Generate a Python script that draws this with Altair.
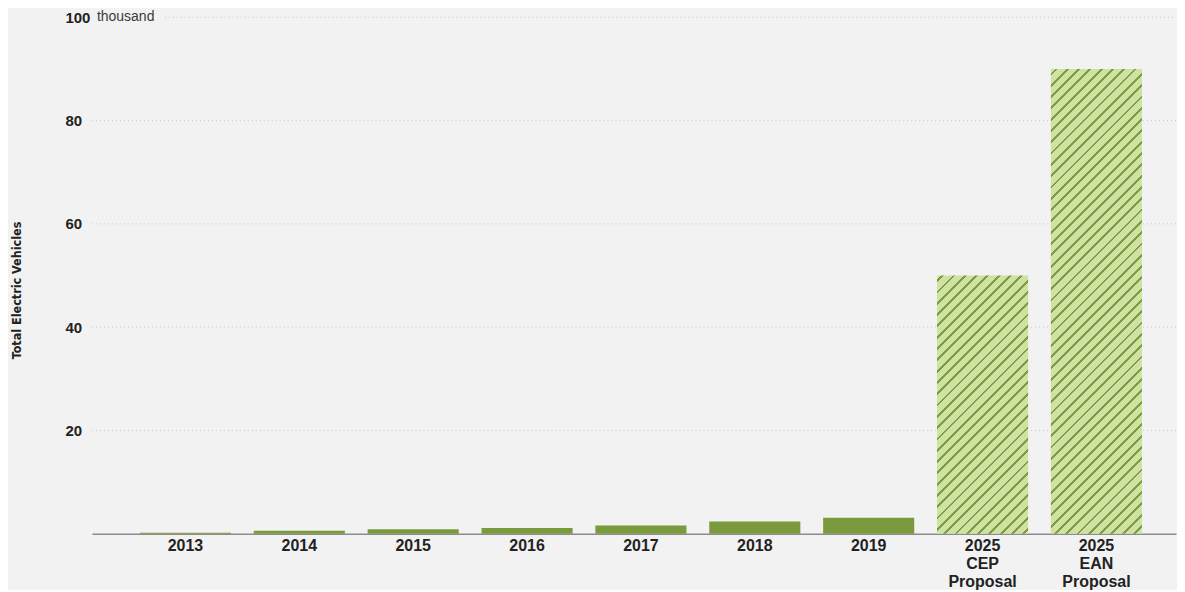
import math
import altair as alt
import pandas as pd

# ---- data (thousand vehicles) ----
categories = ["2013", "2014", "2015", "2016", "2017", "2018", "2019",
              "2025|CEP|Proposal", "2025|EAN|Proposal"]
values = [0.2, 0.6, 0.9, 1.1, 1.6, 2.4, 3.1, 50, 90]
kinds = ["actual"] * 7 + ["cep", "ean"]
grid_values = [20, 40, 60, 80]
top_value = [100]
y_ticks = [20, 40, 60, 80, 100]

# ---- style ----
W, H = 1085, 517
BG = "#f2f2f2"
DARK = "#7b9a3d"
LIGHT = "#cee3a1"
STRIPE = "#7f9b48"
FONT = "Liberation Sans, Arial, sans-serif"

df = pd.DataFrame({"cat": categories, "value": values, "kind": kinds})

x_scale = alt.Scale(domain=categories, paddingInner=0.2, paddingOuter=0.36, align=0.585)
y_scale = alt.Scale(domain=[0, 100], nice=False)

x_enc = alt.X("cat:N", scale=x_scale, sort=categories, axis=alt.Axis(
    title=None, labelExpr="split(datum.label, '|')", labelAngle=0,
    labelFont=FONT, labelFontSize=16, labelFontWeight="bold", labelColor="#222222",
    labelLineHeight=18, labelPadding=4, ticks=False, domain=True,
    domainColor="#8c8c8c", domainWidth=1.5, grid=False, labelBaseline="top"))

y_enc = alt.Y("value:Q", scale=y_scale, axis=alt.Axis(
    values=y_ticks, grid=False, domain=False, ticks=False, tickSize=0,
    labelAlign="left", labelPadding=27, labelBaseline="middle",
    labelFont=FONT, labelFontSize=15, labelFontWeight="bold", labelColor="#222222",
    title="Total Electric Vehicles", titleFont="DejaVu Sans Condensed, sans-serif",
    titleFontSize=12.5, titleFontWeight="bold", titleColor="#222222",
    titleAngle=270, titleAlign="center", titleBaseline="middle",
    titleX=-75, titleY=273))


def hatch(frac):
    step = W / (len(categories) - 0.2 + 0.72)
    w = step * 0.8
    h = H * frac
    s = (w + h) / (w * w + h * h)
    L = (w + h) / math.sqrt(2)
    period = 8.0
    thick = 2.0
    stops = [{"offset": 0, "color": LIGHT}]
    k = 0
    while True:
        a = (k * period + 3) / L
        b = (k * period + 3 + thick) / L
        if b >= 1:
            break
        stops += [{"offset": a, "color": LIGHT}, {"offset": a, "color": STRIPE},
                  {"offset": b, "color": STRIPE}, {"offset": b, "color": LIGHT}]
        k += 1
    stops.append({"offset": 1, "color": LIGHT})
    return {"gradient": "linear", "x1": 0, "y1": 0, "x2": w * s, "y2": h * s, "stops": stops}


base = alt.Chart(df)

grid = alt.Chart(pd.DataFrame({"v": grid_values})).mark_rule(
    color="#c9c9c9", strokeDash=[1, 3], strokeWidth=1
).encode(y=alt.Y("v:Q", scale=y_scale), x=alt.value(0), x2=alt.value(W))

grid_top = alt.Chart(pd.DataFrame({"v": top_value})).mark_rule(
    color="#c9c9c9", strokeDash=[1, 3], strokeWidth=1
).encode(y=alt.Y("v:Q", scale=y_scale), x=alt.value(73), x2=alt.value(W))

unit = alt.Chart(pd.DataFrame({"v": top_value, "t": ["thousand"]})).mark_text(
    align="left", baseline="middle", font=FONT, fontSize=14, color="#3a3a3a", dx=0
).encode(y=alt.Y("v:Q", scale=y_scale), x=alt.value(5), text="t:N")

bars_actual = base.transform_filter("datum.kind == 'actual'").mark_bar(color=DARK).encode(x=x_enc, y=y_enc)
bars_cep = base.transform_filter("datum.kind == 'cep'").mark_bar(color=hatch(50 / 100)).encode(x=x_enc, y=y_enc)
bars_ean = base.transform_filter("datum.kind == 'ean'").mark_bar(color=hatch(90 / 100)).encode(x=x_enc, y=y_enc)

chart = alt.layer(grid, grid_top, bars_actual, bars_cep, bars_ean, unit).properties(
    width=W, height=H, background=BG,
    padding={"left": 3, "top": 2, "right": 0, "bottom": 0}
).configure_view(stroke=None)

chart.save("out.html", embed_options={"renderer": "svg", "actions": False})
